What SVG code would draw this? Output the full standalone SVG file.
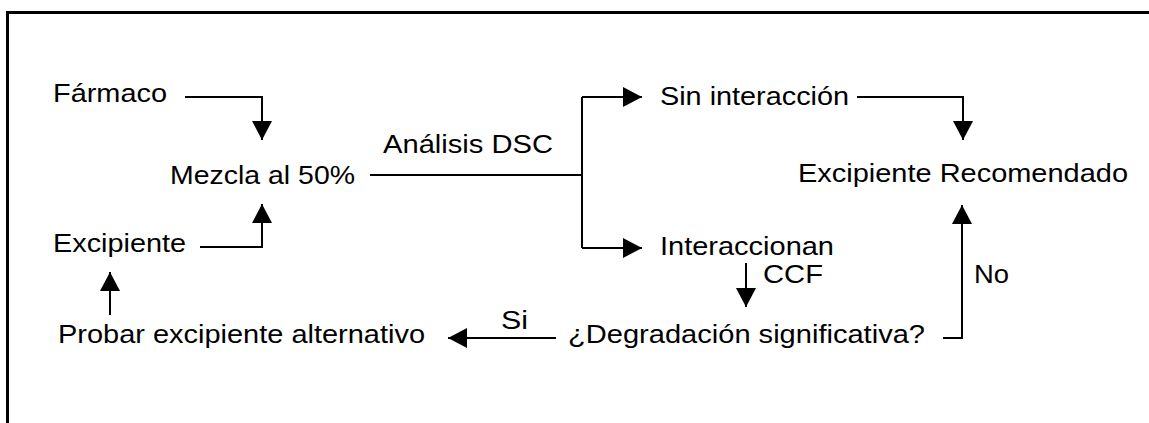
<svg xmlns="http://www.w3.org/2000/svg" width="1149" height="423" viewBox="0 0 1149 423">
<style>
.t{font-family:"Liberation Sans",Arial,sans-serif;font-size:25px;fill:#000}
.c{fill:none;stroke:#000;stroke-width:2}
</style>
<defs>
<marker id="ah" markerUnits="userSpaceOnUse" markerWidth="20" markerHeight="20" refX="19" refY="10" orient="auto" viewBox="0 0 20 20">
<path d="M0,0 L19,10 L0,20 z" fill="#000"/>
</marker>
</defs>
<rect width="1149" height="423" fill="#fff"/>
<rect x="7.5" y="12.5" width="1200" height="500" fill="none" stroke="#000" stroke-width="3"/>
<g id="connectors">
<path class="c" d="M185,97 H262 V140" marker-end="url(#ah)"/>
<path class="c" d="M200,247 H262 V204" marker-end="url(#ah)"/>
<path class="c" d="M110,315 V272" marker-end="url(#ah)"/>
<path class="c" d="M370,175 H582 M582,97 V248"/>
<path class="c" d="M582,97 H642" marker-end="url(#ah)"/>
<path class="c" d="M582,248 H642" marker-end="url(#ah)"/>
<path class="c" d="M857,97 H963 V140" marker-end="url(#ah)"/>
<path class="c" d="M746,263 V307" marker-end="url(#ah)"/>
<path class="c" d="M556,338 H448" marker-end="url(#ah)"/>
<path class="c" d="M943,338 H962 V205" marker-end="url(#ah)"/>
<text class="t" x="383" y="153" textLength="170" lengthAdjust="spacingAndGlyphs">Análisis DSC</text>
<text class="t" x="763" y="283" textLength="60" lengthAdjust="spacingAndGlyphs">CCF</text>
<text class="t" x="501" y="329" textLength="27" lengthAdjust="spacingAndGlyphs">Si</text>
<text class="t" x="974" y="283" textLength="35" lengthAdjust="spacingAndGlyphs">No</text>
</g>
<g id="farmaco"><text class="t" x="53" y="102" textLength="114" lengthAdjust="spacingAndGlyphs">Fármaco</text></g>
<g id="mezcla"><text class="t" x="170" y="184" textLength="185" lengthAdjust="spacingAndGlyphs">Mezcla al 50%</text></g>
<g id="excipiente"><text class="t" x="53" y="252" textLength="133" lengthAdjust="spacingAndGlyphs">Excipiente</text></g>
<g id="probar"><text class="t" x="58" y="343" textLength="367" lengthAdjust="spacingAndGlyphs">Probar excipiente alternativo</text></g>
<g id="sin"><text class="t" x="660" y="105" textLength="189" lengthAdjust="spacingAndGlyphs">Sin interacción</text></g>
<g id="interaccionan"><text class="t" x="660" y="255" textLength="174" lengthAdjust="spacingAndGlyphs">Interaccionan</text></g>
<g id="degradacion"><text class="t" x="568" y="343" textLength="357" lengthAdjust="spacingAndGlyphs">¿Degradación significativa?</text></g>
<g id="recomendado"><text class="t" x="798" y="182" textLength="330" lengthAdjust="spacingAndGlyphs">Excipiente Recomendado</text></g>
</svg>
